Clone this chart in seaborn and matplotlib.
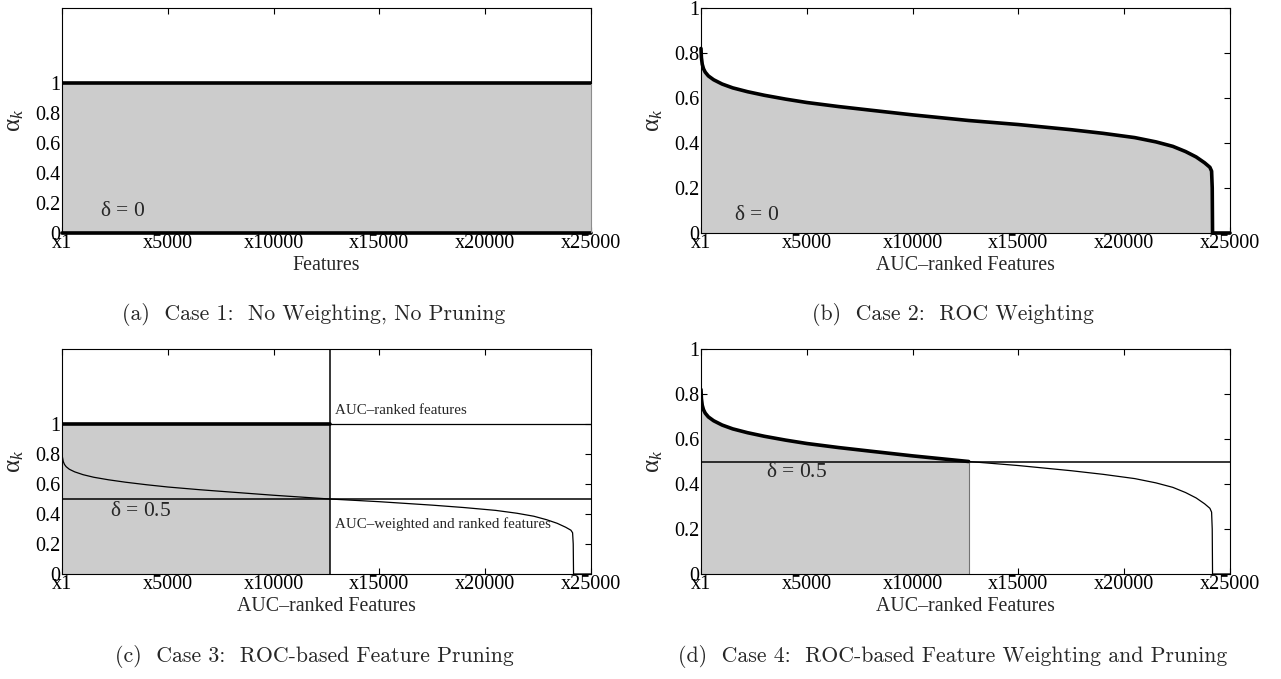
import matplotlib
matplotlib.use('Agg')
import numpy as np
import pandas as pd
import matplotlib.pyplot as plt
import seaborn as sns

# AUC-ranked feature weights
rank = [1, 20, 60, 120, 200, 350, 600, 1000, 1500, 2200, 3000, 4000, 5000, 6500, 8000,
        10000, 12650, 15000, 17500, 19000, 20500, 21500, 22300, 22900, 23400, 23800,
        24050, 24130, 24160, 24175, 25000]
auc_weight = [0.82, 0.78, 0.75, 0.73, 0.715, 0.698, 0.681, 0.662, 0.645, 0.628, 0.612,
              0.595, 0.580, 0.562, 0.546, 0.525, 0.500, 0.482, 0.459, 0.443, 0.424, 0.405,
              0.385, 0.362, 0.338, 0.312, 0.292, 0.275, 0.20, 0.0, 0.0]

# case 1: every feature weight = 1
uniform_rank = [1, 25000]
uniform_weight = [1, 1]

n_features = 25000
prune_at = 12650
delta = 0.5

xticks = [1, 5000, 10000, 15000, 20000, 25000]
xtick_labels = ['x1', 'x5000', 'x10000', 'x15000', 'x20000', 'x25000']
yticks = [0, 0.2, 0.4, 0.6, 0.8, 1]
ytick_labels = ['0', '0.2', '0.4', '0.6', '0.8', '1']

xlabels = ['Features', 'AUC–ranked Features', 'AUC–ranked Features', 'AUC–ranked Features']
captions = ['(a)  Case 1:  No Weighting, No Pruning',
            '(b)  Case 2:  ROC Weighting',
            '(c)  Case 3:  ROC-based Feature Pruning',
            '(d)  Case 4:  ROC-based Feature Weighting and Pruning']

sns.set_style('ticks')
plt.rcParams['font.family'] = ['Liberation Serif', 'DejaVu Serif']
plt.rcParams['mathtext.fontset'] = 'custom'
plt.rcParams['mathtext.rm'] = 'Liberation Serif'
plt.rcParams['mathtext.it'] = 'Liberation Serif:italic'
plt.rcParams['mathtext.bf'] = 'Liberation Serif:bold'

df = pd.DataFrame({'rank': rank, 'alpha': auc_weight})
kept = df[df['rank'] <= prune_at]

GRAY = '#cccccc'
THICK = 2.6
THIN = 0.9

fig = plt.figure(figsize=(12.81, 6.79), dpi=100)
W, H = 1281, 679
aw, ah = 529 / W, 225 / H
ax_a = fig.add_axes([62 / W, 1 - 233 / H, aw, ah])
ax_b = fig.add_axes([701 / W, 1 - 233 / H, aw, ah])
ax_c = fig.add_axes([62 / W, 1 - 574 / H, aw, ah])
ax_d = fig.add_axes([701 / W, 1 - 574 / H, aw, ah])


def style(ax, ytop, xlabel):
    ax.set_xlim(1, n_features)
    ax.set_ylim(0, ytop)
    ax.set_xticks(xticks)
    ax.set_xticklabels(xtick_labels)
    ax.set_yticks(yticks)
    ax.set_yticklabels(ytick_labels)
    ax.tick_params(direction='in', top=True, right=True, length=4, width=0.8,
                   labelsize=14.5, pad=1, colors='black')
    for s in ax.spines.values():
        s.set_visible(True)
        s.set_linewidth(0.8)
        s.set_color('black')
    ax.set_xlabel(xlabel, fontsize=14.3, labelpad=2)
    ax.set_ylabel(r'$\mathrm{\alpha}_k$', fontsize=18)
    ax.yaxis.set_label_coords(-0.068, 0.5)


# (a) no weighting, no pruning
ax_a.fill_between(uniform_rank, 0, uniform_weight, color=GRAY, lw=0)
sns.lineplot(x=uniform_rank, y=uniform_weight, ax=ax_a, color='black', lw=THICK, estimator=None)
ax_a.plot(uniform_rank, [0, 0], color='black', lw=THICK, clip_on=False)
style(ax_a, 1.5, xlabels[0])
ax_a.spines['right'].set_bounds(1, 1.5)
ax_a.plot([n_features, n_features], [0, 1], color='0.55', lw=0.8, clip_on=False)
ax_a.text(1800, 0.14, r'δ = $\mathit{0}$', fontsize=15.5, va='center')

# (b) ROC weighting
ax_b.fill_between(df['rank'], 0, df['alpha'], color=GRAY, lw=0)
sns.lineplot(data=df, x='rank', y='alpha', ax=ax_b, color='black', lw=THICK, estimator=None)
ax_b.lines[-1].set_clip_on(False)
style(ax_b, 1.0, xlabels[1])
ax_b.text(1560, 0.08, r'δ = $\mathit{0}$', fontsize=15.5, va='center')

# (c) ROC-based pruning
ax_c.fill_between([1, prune_at], 0, [1, 1], color=GRAY, lw=0)
sns.lineplot(data=df, x='rank', y='alpha', ax=ax_c, color='black', lw=THIN, estimator=None)
ax_c.plot([1, prune_at], [1, 1], color='black', lw=THICK)
ax_c.plot([prune_at, n_features], [1, 1], color='black', lw=THIN)
ax_c.axvline(prune_at, color='black', lw=1.1)
ax_c.axhline(delta, color='black', lw=1.1)
style(ax_c, 1.5, xlabels[2])
ax_c.text(12900, 1.09, 'AUC–ranked features', fontsize=10.8, va='center')
ax_c.text(12900, 0.33, 'AUC–weighted and ranked features', fontsize=10.8, va='center')
ax_c.text(2270, 0.42, r'δ = $\mathit{0.5}$', fontsize=15.5, va='center')

# (d) ROC-based weighting and pruning
ax_d.fill_between(kept['rank'], 0, kept['alpha'], color=GRAY, lw=0)
sns.lineplot(data=df, x='rank', y='alpha', ax=ax_d, color='black', lw=THIN, estimator=None)
sns.lineplot(data=kept, x='rank', y='alpha', ax=ax_d, color='black', lw=THICK, estimator=None)
ax_d.plot([prune_at, prune_at], [0, delta], color='0.45', lw=0.8)
ax_d.axhline(delta, color='black', lw=1.1)
style(ax_d, 1.0, xlabels[3])
ax_d.text(3070, 0.45, r'δ = $\mathit{0.5}$', fontsize=15.5, va='center')

# sub-figure captions
cap_pos = [(314, 315), (953, 315), (314, 656), (953, 656)]
for (cx, cy), cap in zip(cap_pos, captions):
    fig.text(cx / W, 1 - cy / H, cap, fontfamily='cmr10', fontsize=15.7,
             ha='center', va='center')

fig.savefig('out.png', dpi=100)
